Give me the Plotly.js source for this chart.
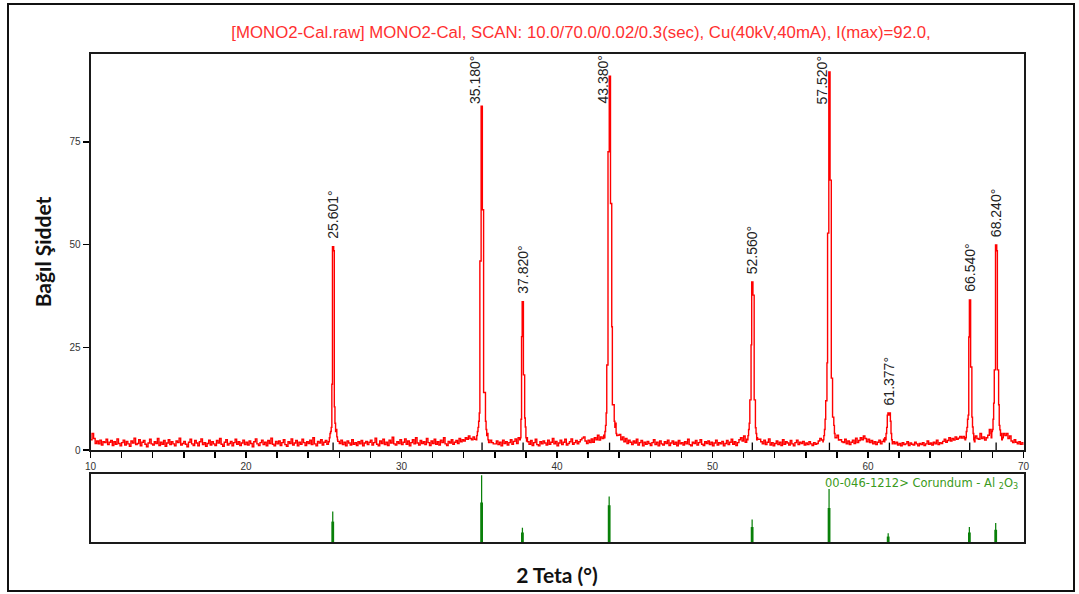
<!DOCTYPE html>
<html>
<head>
<meta charset="utf-8">
<script src="https://cdn.plot.ly/plotly-3.0.1.min.js"></script>
<style>html,body{margin:0;padding:0;background:#fff;}#chart{width:1079px;height:594px;}</style>
</head>
<body>
<div id="chart"></div>
<script>
// ---------- DATA ----------
const chartTitle = "[MONO2-Cal.raw] MONO2-Cal, SCAN: 10.0/70.0/0.02/0.3(sec), Cu(40kV,40mA), I(max)=92.0,";
const yTitle = "Bağıl Şiddet";
const xTitle = "2 Teta (°)";
const refLabel = "00-046-1212> Corundum - Al <sub>2</sub>O<sub>3</sub>";

// background (counts, relative) from 10.0 to 70.0 every 0.1 deg
const bgStart = 10.0;
const bgStep = 0.1;
const background = [
  2.5,4.0,2.8,1.6,2.2,1.5,2.4,1.2,2.0,1.8,2.6,1.3,1.9,2.3,1.1,2.0,1.4,2.7,1.6,1.0,
  1.8,2.4,1.2,2.1,1.5,0.9,2.2,1.7,2.9,1.3,1.6,2.5,1.0,1.9,2.3,1.4,0.8,1.7,2.6,1.5,
  1.2,2.0,1.6,2.8,1.1,1.9,1.4,2.3,0.9,1.7,2.5,1.3,2.0,1.5,1.0,2.2,1.8,2.9,1.2,1.6,
  2.1,1.4,0.8,1.9,2.6,1.5,1.1,2.3,1.7,1.0,2.0,2.7,1.3,1.8,0.9,1.6,2.4,1.2,2.0,1.5,
  1.1,2.3,1.7,2.8,1.4,0.9,1.9,2.5,1.2,1.6,2.1,1.0,1.8,2.6,1.4,2.0,1.1,1.7,2.4,1.3,
  1.9,1.2,2.2,1.6,0.8,2.0,2.7,1.5,1.1,1.8,2.4,1.3,1.9,1.0,2.3,1.6,2.9,1.4,1.0,2.1,
  1.5,2.2,1.1,1.8,2.5,1.3,0.9,2.0,1.6,2.7,1.2,1.7,2.3,1.0,1.9,1.4,2.6,1.8,1.1,2.0,
  1.6,2.4,1.3,3.0,1.5,1.0,2.1,1.7,2.5,1.2,1.9,2.3,1.4,2.0,2.6,3.0,3.4,3.1,3.2,2.1,
  1.6,2.4,1.3,1.9,1.0,2.2,1.7,1.2,2.5,1.4,1.8,1.1,2.0,1.5,2.3,1.0,1.7,2.1,1.3,1.9,
  2.4,1.2,1.8,2.9,1.4,1.0,2.2,1.6,2.6,1.3,1.9,1.1,2.4,1.7,3.1,1.5,1.2,2.0,1.6,2.5,
  1.3,1.9,2.7,1.4,2.2,1.0,1.8,2.5,1.5,3.0,1.7,1.2,2.3,1.6,2.0,1.3,2.8,1.8,1.1,2.2,
  1.6,2.6,1.4,2.0,1.2,2.4,1.8,3.0,1.5,1.1,2.1,1.7,2.5,1.4,1.9,2.3,1.6,2.8,2.0,2.5,
  2.2,3.0,2.6,3.4,2.8,2.5,3.2,2.6,3.6,3.0,2.4,2.2,3.0,2.7,2.4,2.0,1.8,2.4,1.8,1.5,
  1.5,2.2,1.3,1.9,1.0,2.4,1.6,2.0,1.2,1.8,2.5,1.4,2.1,2.7,1.6,3.0,2.2,2.5,2.0,1.8,
  2.6,2.0,1.4,2.3,1.1,1.8,2.6,1.3,1.0,2.0,1.5,2.2,1.7,1.2,2.4,1.4,1.9,2.8,1.5,2.1,
  1.0,1.7,2.4,1.3,1.9,2.6,1.2,1.6,2.0,2.7,1.4,1.8,2.3,1.5,2.0,2.5,2.9,3.2,2.2,1.6,
  2.4,1.8,2.7,1.9,3.0,2.5,3.6,2.4,3.2,2.8,3.6,4.0,3.2,3.0,2.8,3.4,4.0,3.6,4.2,3.6,
  3.8,2.5,3.2,2.0,2.8,1.6,2.4,1.9,1.3,2.2,1.7,2.6,1.2,1.8,2.3,1.0,1.9,1.4,2.1,1.6,
  1.1,1.8,2.5,1.3,1.9,1.0,2.2,1.5,1.2,2.0,1.6,2.4,1.1,1.7,2.2,1.4,1.9,1.0,2.3,1.5,
  1.8,1.2,2.0,1.5,2.6,1.3,1.0,1.9,1.6,2.3,1.2,1.8,2.5,1.4,1.1,2.0,1.6,2.2,1.3,1.9,
  1.0,1.7,2.4,1.2,1.8,1.5,2.1,1.0,1.6,2.3,1.3,1.9,2.6,1.4,2.0,1.1,1.8,2.5,3.0,2.2,
  3.4,1.9,2.6,2.0,3.0,2.4,3.2,2.8,3.0,2.6,2.6,2.0,1.5,2.4,1.3,1.9,2.7,1.2,1.8,1.0,
  1.6,2.2,1.3,1.9,1.1,2.5,1.4,2.0,1.7,1.2,2.3,1.5,1.0,1.8,2.4,1.3,1.9,1.6,2.1,1.2,
  1.7,1.3,2.0,1.5,1.1,1.8,1.4,1.6,2.2,2.8,2.4,2.0,2.6,3.0,2.8,3.2,3.0,3.4,3.6,3.0,
  3.6,2.4,2.5,2.0,1.8,2.6,1.5,2.2,1.3,1.9,2.4,1.6,2.9,1.8,2.3,3.0,2.5,3.4,2.8,2.0,
  2.6,1.8,2.3,1.5,2.0,1.3,1.9,2.4,1.5,2.1,2.6,3.0,2.4,2.8,3.0,2.6,1.8,1.5,1.9,1.2,
  1.6,1.0,1.8,1.3,1.5,2.0,1.1,1.7,1.4,1.2,1.9,1.5,1.0,1.6,1.3,1.8,1.1,1.5,2.2,1.4,
  1.7,1.2,1.9,1.5,2.4,1.3,1.8,1.6,2.1,2.6,1.9,2.3,3.0,2.2,2.8,2.4,3.2,2.6,2.9,3.3,
  2.9,3.3,2.8,3.0,3.2,3.4,3.0,3.2,2.8,3.4,2.8,2.6,4.0,2.8,3.2,2.4,3.0,3.6,5.0,4.0,
  3.5,4.0,4.5,5.0,5.5,6.0,5.0,4.0,3.5,4.0,2.8,3.4,2.2,1.8,2.5,1.9,1.5,2.0,1.4,1.8,
  1.2
];

// peak profiles, sampled every 0.04 deg from the given start angle
const profileStep = 0.04;
const profileStarts = [25.36, 34.80, 37.60, 43.04, 52.24, 57.12, 61.04, 66.24, 67.92];
const profile25 = [3.0,4.0,4.5,5.5,16,49.5,49.5,48.5,10.5,6.5,4.5,5.0,3.2,2.5];
const profile35 = [2.5,3.5,4.5,5.5,7.0,9.0,46,46,83.7,83.7,58.5,58.5,14,14,14,7,5,3.5,4.0,2.5];
const profile37 = [2.5,3.0,7.5,27.6,36.1,36.1,18.3,18.3,7.8,5.6,3.0,2.2,3.0];
const profile43 = [3.0,4.5,6.0,9.0,20.7,20.7,72.6,72.6,91,91,60,60,30,11,11,11,7,5.5,6.5,4.0,3.5];
const profile52 = [2.5,3.5,5.0,6.5,12.2,12.2,25.6,40.9,40.9,37.7,37.7,12.2,12.2,5.4,4.0,2.5,3.0];
const profile57 = [2.5,3.5,5.0,7.5,12,12,21.2,52.8,52.8,92,92,65.7,65.7,17.5,17.5,8,8,6.0,4.0,3.0];
const profile61 = [2.0,3.0,2.5,4.0,5.5,8.5,9.0,9.0,8.5,9.0,7.0,4.0,2.5,1.5,2.0];
const profile66 = [2.5,3.0,4.5,5.5,7.5,8.5,27.5,36.5,36.5,20.2,20.2,8.0,5.6,4.0,2.5,2.0,3.0];
const profile68 = [3.0,4.5,5.0,7.5,11.4,19.5,19.5,49.9,49.9,48.5,19.5,19.5,11.0,6.0,4.9,3.5,4.0,2.5,3.0];
const profiles = [profile25, profile35, profile37, profile43, profile52, profile57, profile61, profile66, profile68];

// peak labels
const peakPositions = [25.601, 35.180, 37.820, 43.380, 52.560, 57.520, 61.377, 66.540, 68.240];
const peakLabels = ["25.601°","35.180°","37.820°","43.380°","52.560°","57.520°","61.377°","66.540°","68.240°"];

// reference pattern 00-046-1212 Corundum (relative intensity)
const refPositions = [25.578, 35.152, 37.776, 43.355, 52.549, 57.496, 61.298, 66.519, 68.212];
const refIntensity = [45, 98, 21, 67, 33, 78, 13, 22, 28];
const refShoulder  = [30, 58, 14, 54, 22, 50, 8, 14, 18];

// ---------- BUILD ----------
const windows = profileStarts.map((s, i) => [s, s + (profiles[i].length - 1) * profileStep]);
const pts = [];
background.forEach((v, i) => {
  const x = +(bgStart + i * bgStep).toFixed(3);
  const inside = windows.some(w => x >= w[0] - 1e-9 && x <= w[1] + 1e-9);
  if (!inside) pts.push([x, v]);
});
profiles.forEach((p, k) => {
  p.forEach((v, i) => pts.push([+(profileStarts[k] + i * profileStep).toFixed(3), v]));
});
pts.sort((a, b) => a[0] - b[0]);
const xs = pts.map(p => p[0]);
const ys = pts.map(p => p[1]);

const yMax = 96.4;
const peakHeights = profiles.map(p => Math.max(...p));

const traces = [
  {
    x: xs, y: ys, type: 'scatter', mode: 'lines',
    line: {color: '#ff0000', width: 1.4, shape: 'hv'},
    xaxis: 'x', yaxis: 'y', hoverinfo: 'x+y'
  },
  {
    x: refPositions, y: refShoulder, type: 'bar', width: 0.18,
    marker: {color: '#0a800a', line: {width: 0}},
    xaxis: 'x2', yaxis: 'y2', hoverinfo: 'skip'
  },
  {
    x: refPositions, y: refIntensity, type: 'bar', width: 0.08,
    marker: {color: '#0a800a', line: {width: 0}},
    xaxis: 'x2', yaxis: 'y2'
  }
];

const textFont = 'Liberation Sans, Arial, sans-serif';
const annotations = peakPositions.map((p, i) => {
  const h = peakHeights[i];
  const tall = h > 75;
  return {
    x: p, y: tall ? yMax : h, xref: 'x', yref: 'y',
    text: peakLabels[i], textangle: -90, showarrow: false,
    xanchor: 'center', yanchor: tall ? 'top' : 'bottom',
    xshift: tall ? -7 : 0, yshift: tall ? 0 : 6,
    font: {family: textFont, size: 14, color: '#222'}
  };
});
annotations.push({
  x: 0.9455, y: 0.186, xref: 'paper', yref: 'paper', xanchor: 'right', yanchor: 'middle',
  text: refLabel, showarrow: false,
  font: {family: 'DejaVu Sans, sans-serif', size: 11.5, color: '#3a9a20'}
});

const shapes = peakPositions.map(p => ({
  type: 'line', xref: 'x', yref: 'y', x0: p, x1: p, y0: 0, y1: 1.8,
  line: {color: '#000', width: 1.3}
}));
shapes.push({
  type: 'rect', xref: 'paper', yref: 'paper',
  x0: 8 / 1079, x1: 1074 / 1079, y0: 1 - 591 / 594, y1: 1 - 4 / 594,
  line: {color: '#111', width: 2}, fillcolor: 'rgba(0,0,0,0)', layer: 'below'
});

const frame = {showline: true, linecolor: '#1a1a1a', linewidth: 2, mirror: true, showgrid: false, zeroline: false};
const xDom = [90.5 / 1079, 1023.5 / 1079];

const layout = {
  width: 1079, height: 594,
  margin: {l: 0, r: 0, t: 0, b: 0},
  paper_bgcolor: '#fff', plot_bgcolor: '#fff',
  showlegend: false, barmode: 'overlay',
  title: {
    text: chartTitle, x: 581 / 1079, xanchor: 'center', xref: 'paper',
    y: 1 - 32 / 594, yanchor: 'middle', yref: 'paper',
    font: {family: textFont, size: 16.8, color: '#ff3030'}
  },
  xaxis: Object.assign({}, frame, {
    domain: xDom, range: [10, 70], anchor: 'y',
    tick0: 10, dtick: 10, ticks: 'outside', ticklen: 6, tickwidth: 1.5, tickcolor: '#000',
    minor: {dtick: 2, ticks: 'outside', ticklen: 6, tickwidth: 1.5, tickcolor: '#000', showgrid: false},
    tickfont: {family: textFont, size: 10, color: '#333'}
  }),
  yaxis: Object.assign({}, frame, {
    domain: [1 - 450 / 594, 1 - 54 / 594], range: [0, yMax], anchor: 'x',
    tickvals: [0, 25, 50, 75], ticks: 'outside', ticklen: 6, tickwidth: 1.5, tickcolor: '#000',
    tickfont: {family: textFont, size: 10, color: '#333'},
    title: {text: '<b>' + yTitle + '</b>', font: {family: 'Lato, sans-serif', size: 21, color: '#111'}, standoff: 12}
  }),
  xaxis2: Object.assign({}, frame, {
    domain: xDom, range: [10, 70], anchor: 'y2',
    showticklabels: false, ticks: '',
    title: {text: '<b>' + xTitle + '</b>', font: {family: 'Lato, sans-serif', size: 21, color: '#111'}, standoff: 25}
  }),
  yaxis2: Object.assign({}, frame, {
    domain: [1 - 542 / 594, 1 - 474 / 594], range: [0, 100], anchor: 'x2',
    showticklabels: false, ticks: ''
  }),
  annotations: annotations,
  shapes: shapes
};

Plotly.newPlot('chart', traces, layout, {displayModeBar: false, staticPlot: true});
</script>
</body>
</html>
